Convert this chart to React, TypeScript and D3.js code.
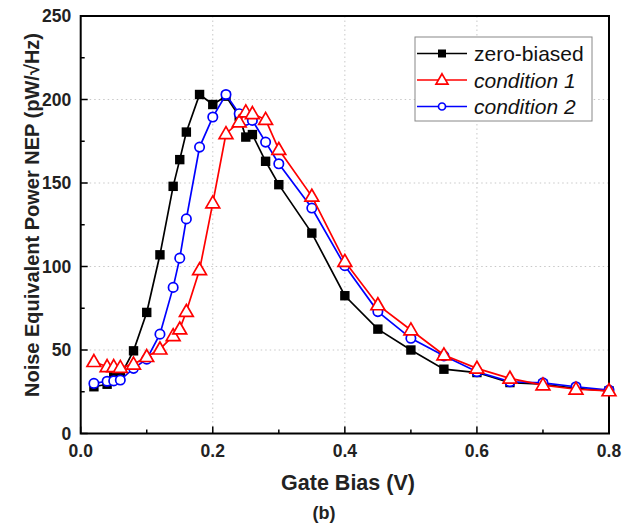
import React from "react";
import * as d3 from "d3";

const zeroX = [0.02, 0.04, 0.05, 0.06, 0.08, 0.1, 0.12, 0.14, 0.15, 0.16, 0.18, 0.2, 0.22, 0.24, 0.25, 0.26, 0.28, 0.3, 0.35, 0.4, 0.45, 0.5, 0.55, 0.6, 0.65, 0.7, 0.75, 0.8];
const zeroY = [28, 29.5, 34, 34.5, 49.5, 72.5, 107, 148, 164, 180.5, 203, 197, 202, 190, 177.5, 179, 163, 149, 120, 82.5, 62.5, 50, 38.5, 36.5, 30.5, 29.5, 27, 25.5];

const c1X = [0.02, 0.04, 0.05, 0.06, 0.08, 0.1, 0.12, 0.14, 0.15, 0.16, 0.18, 0.2, 0.22, 0.24, 0.25, 0.26, 0.28, 0.3, 0.35, 0.4, 0.45, 0.5, 0.55, 0.6, 0.65, 0.7, 0.75, 0.8];
const c1Y = [43, 40, 40, 39.5, 41.5, 46, 50.5, 58.5, 62.5, 73, 98, 138, 179.5, 186.5, 192.5, 191.5, 188, 170, 142, 103, 77, 62, 47, 39, 33, 29, 26.5, 25.5];

const c2X = [0.02, 0.04, 0.05, 0.06, 0.08, 0.1, 0.12, 0.14, 0.15, 0.16, 0.18, 0.2, 0.22, 0.24, 0.25, 0.26, 0.28, 0.3, 0.35, 0.4, 0.45, 0.5, 0.55, 0.6, 0.65, 0.7, 0.75, 0.8];
const c2Y = [30, 31.3, 31.5, 32, 39, 44.5, 59.5, 87.5, 105, 128.5, 171.5, 189.5, 203, 191.5, 187.5, 187.5, 174.5, 161.5, 135, 100.5, 73, 57, 46.5, 37, 31, 30.3, 28, 26];

const xTicks = [0, 0.2, 0.4, 0.6, 0.8];
const xMinor = [0.1, 0.3, 0.5, 0.7];
const yTicks = [0, 50, 100, 150, 200, 250];
const yMinor = [25, 75, 125, 175, 225];
const legendLabels = ["zero-biased", "condition 1", "condition 2"];

const W = 636, H = 527;
const L = 80.7, R = 609, T = 16, B = 433.5;
const FONT = "'Liberation Sans', Arial, sans-serif";

export default function App() {
  const x = d3.scaleLinear().domain([0, 0.8]).range([L, R]);
  const y = d3.scaleLinear().domain([0, 250]).range([B, T]);
  const line = d3.line<[number, number]>().x(d => x(d[0])).y(d => y(d[1]));
  const zs: [number, number][] = zeroX.map((v, i) => [v, zeroY[i]]);
  const s1: [number, number][] = c1X.map((v, i) => [v, c1Y[i]]);
  const s2: [number, number][] = c2X.map((v, i) => [v, c2Y[i]]);
  const tri = (cx: number, cy: number, s: number) =>
    `M${cx},${cy - s * 0.62}L${cx + s * 0.6},${cy + s * 0.42}L${cx - s * 0.6},${cy + s * 0.42}Z`;

  const lgX0 = 417, lgX1 = 467, lgMid = 442, lgTx = 474;
  const lgRows = [53.5, 80, 106.5];

  return (
    <svg width={W} height={H} style={{ position: "absolute", left: 0, top: 0, background: "#fff" }} fontFamily={FONT}>
      <rect x={0} y={0} width={W} height={H} fill="#fff" />
      {/* grid */}
      {xTicks.slice(1, -1).map(t => (
        <line key={"gx" + t} x1={x(t)} x2={x(t)} y1={T} y2={B} stroke="#c8c8c8" strokeWidth={1} strokeDasharray="1.5,3" />
      ))}
      {yTicks.slice(1, -1).map(t => (
        <line key={"gy" + t} x1={L} x2={R} y1={y(t)} y2={y(t)} stroke="#c8c8c8" strokeWidth={1} strokeDasharray="1.5,3" />
      ))}
      {/* ticks */}
      {xTicks.map(t => (
        <line key={"xt" + t} x1={x(t)} x2={x(t)} y1={B} y2={B - 7} stroke="#000" strokeWidth={1.5} />
      ))}
      {xMinor.map(t => (
        <line key={"xm" + t} x1={x(t)} x2={x(t)} y1={B} y2={B - 4} stroke="#000" strokeWidth={1.5} />
      ))}
      {yTicks.map(t => (
        <line key={"yt" + t} x1={L} x2={L + 7} y1={y(t)} y2={y(t)} stroke="#000" strokeWidth={1.5} />
      ))}
      {yMinor.map(t => (
        <line key={"ym" + t} x1={L} x2={L + 4} y1={y(t)} y2={y(t)} stroke="#000" strokeWidth={1.5} />
      ))}
      {/* frame */}
      <rect x={L} y={T} width={R - L} height={B - T} fill="none" stroke="#000" strokeWidth={2} />
      {/* tick labels */}
      {xTicks.map(t => (
        <text key={"xl" + t} x={x(t)} y={457} textAnchor="middle" fontSize={17.5} fontWeight="bold" fill="#222">
          {d3.format(".1f")(t)}
        </text>
      ))}
      {yTicks.map(t => (
        <text key={"yl" + t} x={L - 9.5} y={y(t)} dy="0.36em" textAnchor="end" fontSize={17.5} fontWeight="bold" fill="#222">
          {t}
        </text>
      ))}
      {/* titles */}
      <text x={348} y={490} textAnchor="middle" fontSize={21.5} fontWeight="bold" fill="#222">Gate Bias (V)</text>
      <text x={324} y={519} textAnchor="middle" fontSize={18} fontWeight="bold" fill="#222">(b)</text>
      <text transform="translate(39,215) rotate(-90)" textAnchor="middle" fontSize={20} fontWeight="bold" fill="#222">
        Noise Equivalent Power NEP (pW/√Hz)
      </text>
      {/* series */}
      <path d={line(zs) || ""} fill="none" stroke="#000" strokeWidth={1.7} />
      {zs.map((d, i) => (
        <rect key={"zs" + i} x={x(d[0]) - 4.7} y={y(d[1]) - 4.7} width={9.4} height={9.4} fill="#000" />
      ))}
      <path d={line(s2) || ""} fill="none" stroke="#0000ff" strokeWidth={1.7} />
      {s2.map((d, i) => (
        <circle key={"s2" + i} cx={x(d[0])} cy={y(d[1])} r={4.7} fill="#fff" stroke="#0000ff" strokeWidth={1.7} />
      ))}
      <path d={line(s1) || ""} fill="none" stroke="#ff0000" strokeWidth={1.7} />
      {s1.map((d, i) => (
        <path key={"s1" + i} d={tri(x(d[0]), y(d[1]), 11.5)} fill="#fff" stroke="#ff0000" strokeWidth={1.7} />
      ))}
      {/* legend */}
      <rect x={415} y={37} width={177} height={84} fill="#fff" stroke="#888" strokeWidth={1} />
      <line x1={lgX0} x2={lgX1} y1={lgRows[0]} y2={lgRows[0]} stroke="#000" strokeWidth={1.7} />
      <rect x={lgMid - 4} y={lgRows[0] - 4} width={8} height={8} fill="#000" />
      <line x1={lgX0} x2={lgX1} y1={lgRows[1]} y2={lgRows[1]} stroke="#ff0000" strokeWidth={1.7} />
      <path d={tri(lgMid, lgRows[1], 10)} fill="#fff" stroke="#ff0000" strokeWidth={1.7} />
      <line x1={lgX0} x2={lgX1} y1={lgRows[2]} y2={lgRows[2]} stroke="#0000ff" strokeWidth={1.7} />
      <circle cx={lgMid} cy={lgRows[2]} r={3.5} fill="#fff" stroke="#0000ff" strokeWidth={1.7} />
      {legendLabels.map((lab, i) => (
        <text key={lab} x={lgTx} y={lgRows[i]} dy="0.36em" fontSize={21} fontStyle={i === 0 ? "normal" : "italic"} fill="#111">
          {lab}
        </text>
      ))}
    </svg>
  );
}
